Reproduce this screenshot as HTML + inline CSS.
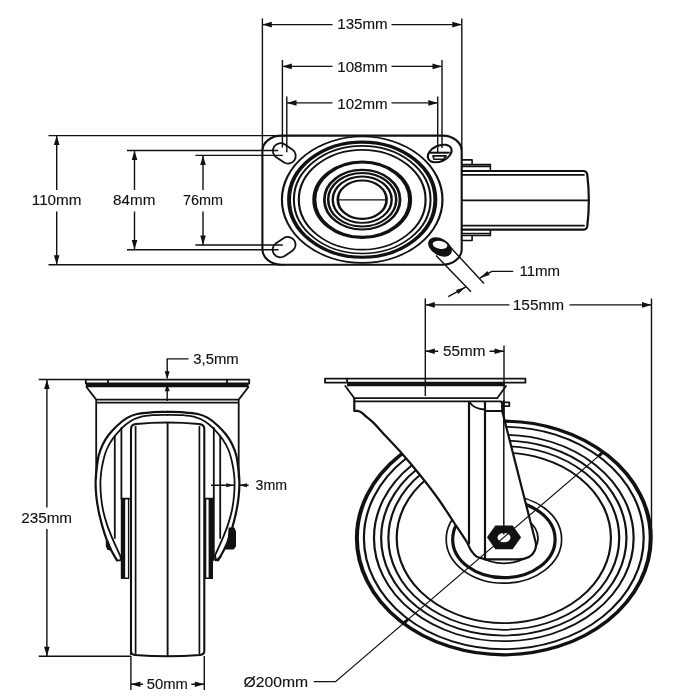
<!DOCTYPE html>
<html><head><meta charset="utf-8">
<style>
html,body{margin:0;padding:0;background:#fff;}
svg{display:block;will-change:transform;opacity:.9999}
text{font-family:"Liberation Sans",sans-serif;font-size:14px;fill:#111;stroke:#111;stroke-width:.12}
.l{stroke:#111;stroke-width:1.4;fill:none}
.t{stroke:#111;stroke-width:1.8;fill:none;stroke-linejoin:round;stroke-linecap:round}
.k{stroke:#111;stroke-width:2.2;fill:none;stroke-linejoin:round;stroke-linecap:round}
.a{fill:#111;stroke:none}
</style></head><body>
<svg width="700" height="700" viewBox="0 0 700 700">
<rect width="700" height="700" fill="#fff"/>

<!-- ============ TOP VIEW ============ -->
<g id="topdims">
<!-- 135 -->
<path class="l" d="M262.4 18.5V150M461.8 18.5V150M262.3 24.6H332.5M391.5 24.6H461.8"/>
<path class="a" d="M262.3 24.6l9.5-2.8v5.6zM461.8 24.6l-9.5-2.8v5.6z"/>
<text x="337.3" y="29.4" textLength="50.4" lengthAdjust="spacingAndGlyphs">135mm</text>
<!-- 108 -->
<path class="l" d="M282.4 60V147.6M442 60V148M282.3 66.4H332.5M391.5 66.4H442"/>
<path class="a" d="M282.3 66.4l9.5-2.8v5.6zM442 66.4l-9.5-2.8v5.6z"/>
<text x="337.3" y="71.5" textLength="50.4" lengthAdjust="spacingAndGlyphs">108mm</text>
<!-- 102 -->
<path class="l" d="M286.8 96.5V152.3M437.7 96.5V152.7M287 102.9H332.5M391.5 102.9H437.8"/>
<path class="a" d="M287 102.9l9.5-2.8v5.6zM437.8 102.9l-9.5-2.8v5.6z"/>
<text x="337.3" y="108.5" textLength="50.4" lengthAdjust="spacingAndGlyphs">102mm</text>
<!-- 110 -->
<path class="l" d="M48.5 135.6H290M48.5 264.7H285M56.7 136V190M56.7 211.5V264"/>
<path class="a" d="M56.7 135.5l-2.8 9.5h5.6zM56.7 264.7l-2.8-9.5h5.6z"/>
<text x="31.8" y="205.3" textLength="49.7" lengthAdjust="spacingAndGlyphs">110mm</text>
<!-- 84 -->
<path class="l" d="M127 150.5H278.2M127 249.7H278.5M134.5 151V190M134.5 211.5V249"/>
<path class="a" d="M134.5 150.4l-2.8 9.5h5.6zM134.5 249.6l-2.8-9.5h5.6z"/>
<text x="113.1" y="205.3" textLength="42.3" lengthAdjust="spacingAndGlyphs">84mm</text>
<!-- 76 -->
<path class="l" d="M195.4 155.4H282.8M195.4 245H282.8M203 156V190M203 211.5V244.5"/>
<path class="a" d="M203 155.4l-2.8 9.5h5.6zM203 245l-2.8-9.5h5.6z"/>
<text x="183.0" y="205.3" textLength="40.0" lengthAdjust="spacingAndGlyphs">76mm</text>
</g>

<g id="topview">
<path class="k" style="stroke-width:2.1" d="M281.4 135.6H442.7A19 15.5 0 0 1 461.7 151.1V249.2A19 15.5 0 0 1 442.7 264.7H281.4A19 15.5 0 0 1 262.4 249.2V151.1A19 15.5 0 0 1 281.4 135.6Z"/>
<!-- holes -->
<rect class="t" style="stroke-width:1.8" x="-12.2" y="-7.7" width="24.4" height="15.4" rx="7.7" transform="translate(284.3 153.4) rotate(34)"/>
<rect class="t" style="stroke-width:1.8" x="-12.2" y="-7.7" width="24.4" height="15.4" rx="7.7" transform="translate(284.1 247.1) rotate(-34)"/>
<g transform="translate(439.7 153.5)">
<ellipse class="k" style="stroke-width:2" rx="12.6" ry="7.9" transform="rotate(-24)"/>
<path d="M-10.5 -0.8H10" stroke="#111" stroke-width="2" fill="none"/>
<path class="t" style="stroke-width:1.6" d="M-6.8 2.4H6.5L3.6 5.8H-5.6Z"/>
</g>
<g transform="translate(440 247)">
<ellipse rx="12.8" ry="8.4" transform="rotate(30)" fill="#111"/>
<ellipse cx="-0.3" cy="-2.1" rx="7.4" ry="3.9" transform="rotate(9)" fill="#fff"/>
</g>
<!-- rings -->
<g transform="translate(362.2 199.7) scale(1.27 1)" fill="none" stroke="#111">
<circle r="63.2" stroke-width="1.7"/>
<circle r="57.6" stroke-width="3.1"/>
<circle r="53.8" stroke-width="1.6"/>
<circle r="49.9" stroke-width="1.7"/>
<circle r="37.7" stroke-width="3.2"/>
<circle r="29.8" stroke-width="2.2"/>
<circle r="26.8" stroke-width="2"/>
<circle r="23.2" stroke-width="1.9"/>
<circle r="19.2" stroke-width="2.1"/>
</g>
<path class="l" style="stroke-width:1.4" d="M338 199.9H386.5"/>
<!-- fork seen from top -->
<path class="t" style="stroke-width:1.6" d="M461.8 159.9H472.1V163.6M461.8 240.5H472.1V236.6"/>
<path class="l" style="stroke-width:1.6" d="M461.8 164.5H490.4V171M461.8 166.4H490M461.8 235.5H490.4V229.6M461.8 233.5H490"/>
<path class="k" d="M461.8 171H583Q587 171 587.3 175Q590.4 200 587.3 226Q587 229.7 583 229.7H461.8"/>
<path class="t" d="M461.8 174.8H584M461.8 225.7H584M461.8 200.3H588"/>
</g>

<!-- 11mm -->
<g id="d11">
<path class="l" d="M436 255.4L471 291.8M450 246.8L484 283.6M448.3 296.7L465.6 287.1M480 277.9L491.8 271.4H513.2"/>
<path class="a" d="M465.6 287.1l-9.6 2.8 2.2 4zM480 277.9l9.6-2.8-2.2-4z"/>
<text x="519.5" y="275.7" textLength="40.6" lengthAdjust="spacingAndGlyphs">11mm</text>
</g>

<!-- 155 / 55 -->
<g id="d155">
<path class="l" d="M425.3 298.6V396M651.5 298.6V536M425.3 304.9H509.5M569.5 304.9H651.5"/>
<path class="a" d="M425.3 304.9l9.5-2.8v5.6zM651.5 304.9l-9.5-2.8v5.6z"/>
<text x="512.8" y="310.0" textLength="51.3" lengthAdjust="spacingAndGlyphs">155mm</text>
<path class="l" d="M504 345.5V537M425.3 351.3H438.2M489.5 351.3H504"/>
<path class="a" d="M425.3 351.3l9.5-2.8v5.6zM504 351.3l-9.5-2.8v5.6z"/>
<text x="443.0" y="356.4" textLength="42.4" lengthAdjust="spacingAndGlyphs">55mm</text>
</g>

<!-- ============ FRONT VIEW ============ -->
<g id="front">
<!-- 235 -->
<path class="l" d="M38.7 379.5H86M38.7 656.3H131M46.9 380V507.4M46.9 529.1V656"/>
<path class="a" d="M46.9 379.5l-2.8 9.5h5.6zM46.9 656.3l-2.8-9.5h5.6z"/>
<text x="21.2" y="523.0" textLength="50.9" lengthAdjust="spacingAndGlyphs">235mm</text>
<!-- 3,5 -->
<path class="l" d="M188.6 358.9H167.2V378M167.2 385V401"/>
<path class="a" d="M167.2 379.3l-2.5-8h5zM167.2 384.2l-2.5 7h5z"/>
<text x="193.3" y="363.6" textLength="45.4" lengthAdjust="spacingAndGlyphs">3,5mm</text>
<!-- plate -->
<path class="t" d="M85.8 379.6H249.2V383.5H85.8ZM108 379.6V383.5M227 379.6V383.5"/>
<path d="M86 385.7H248.5" stroke="#111" stroke-width="3.2" fill="none"/>
<path class="t" d="M86.4 387L96.2 399.6M248.4 387L238.7 399.6M96.2 399.6H238.7M96.2 402.6H238.7M96.2 399.6V478M238.7 399.6V478"/>
<!-- wheel -->
<path class="t" style="stroke-width:2.1" d="M131 654V429Q131 424.5 136 424Q167.5 421 199 424Q204.3 424.5 204.3 429V651Q204.3 654.5 200 655Q167.5 657.5 135 655Q131 654.5 131 651"/>
<path class="l" style="stroke-width:1.7" d="M135.6 426V654.5M199.4 426V654.5"/><path class="l" style="stroke-width:1.9" d="M167.6 422.5V656"/>
<!-- fork outer curve -->
<path class="k" d="M167.5 411.9C164.8 412.0 156.5 411.9 151.4 412.3C146.3 412.7 141.2 413.1 137.1 414.0C133.0 414.9 130.4 415.9 127.1 417.9C123.8 419.8 120.2 422.8 117.1 425.7C114.0 428.6 111.0 431.9 108.6 435.0C106.2 438.1 104.6 440.8 102.9 444.3C101.2 447.8 99.7 451.2 98.6 456.0C97.5 460.8 96.7 468.4 96.2 472.9C95.7 477.4 95.6 478.9 95.6 482.9C95.6 486.9 95.9 492.4 96.4 497.1C96.9 501.8 97.6 506.0 98.6 511.0C99.6 516.0 101.2 522.1 102.6 527.1C104.0 532.1 105.7 537.1 107.1 540.9C108.5 544.7 109.5 546.8 111.1 550.0C112.7 553.2 115.9 558.6 116.9 560.3"/>
<path class="k" d="M167.5 411.9C170.2 412.0 178.5 411.9 183.6 412.3C188.7 412.7 193.8 413.1 197.9 414.0C202.0 414.9 204.6 415.9 207.9 417.9C211.2 419.8 214.8 422.8 217.9 425.7C221.0 428.6 224.0 431.9 226.4 435.0C228.8 438.1 230.4 440.8 232.1 444.3C233.8 447.8 235.3 451.2 236.4 456.0C237.5 460.8 238.3 468.4 238.8 472.9C239.3 477.4 239.4 478.9 239.4 482.9C239.4 486.9 239.1 492.4 238.6 497.1C238.1 501.8 237.4 506.0 236.4 511.0C235.4 516.0 233.8 522.1 232.4 527.1C231.0 532.1 229.3 537.1 227.9 540.9C226.5 544.7 225.5 546.8 223.9 550.0C222.3 553.2 219.1 558.6 218.1 560.3"/>
<path class="t" d="M167.5 414.8C164.9 414.9 156.3 414.9 152.0 415.2C147.7 415.5 145.1 415.6 141.4 416.6C137.7 417.6 133.3 419.4 130.0 421.4C126.7 423.4 124.2 425.7 121.4 428.6C118.6 431.5 115.4 435.0 112.9 438.6C110.4 442.2 108.2 446.1 106.5 450.0C104.8 453.9 103.9 458.2 103.0 462.0C102.1 465.8 101.5 469.4 101.1 472.9C100.7 476.4 100.4 478.9 100.4 482.9C100.4 486.9 100.6 492.4 101.1 497.1C101.6 501.8 102.2 506.4 103.2 511.0C104.2 515.6 105.5 520.1 107.1 524.9C108.7 529.7 111.0 535.1 112.9 539.7C114.8 544.3 117.4 549.6 118.6 552.3C119.8 555.0 120.0 555.1 120.3 555.7"/>
<path class="t" d="M167.5 414.8C170.1 414.9 178.7 414.9 183.0 415.2C187.3 415.5 189.9 415.6 193.6 416.6C197.3 417.6 201.7 419.4 205.0 421.4C208.3 423.4 210.8 425.7 213.6 428.6C216.4 431.5 219.6 435.0 222.1 438.6C224.6 442.2 226.8 446.1 228.5 450.0C230.2 453.9 231.1 458.2 232.0 462.0C232.9 465.8 233.5 469.4 233.9 472.9C234.3 476.4 234.6 478.9 234.6 482.9C234.6 486.9 234.4 492.4 233.9 497.1C233.4 501.8 232.8 506.4 231.8 511.0C230.8 515.6 229.5 520.1 227.9 524.9C226.3 529.7 224.0 535.1 222.1 539.7C220.2 544.3 217.6 549.6 216.4 552.3C215.2 555.0 215.0 555.1 214.7 555.7"/>
<!-- fork inner verticals -->
<path class="t" d="M114.8 436V538M121.4 428V498.6M220.2 436V538M213.8 428V560"/>
<path class="t" d="M121.5 498.6H130.5M213.6 498.6H204.5"/>
<!-- hub bars -->
<path d="M123 498.6V578.2M210.8 498.6V578.2" stroke="#111" stroke-width="4.4" fill="none"/>
<path class="l" d="M128.6 498.6V578.2H121M205.6 498.6V578.2H213"/>
<!-- fork foot -->
<path class="t" d="M116.9 560.3H121L120.3 555.7M220.8 556.8L215.8 560.4L215.2 555.7"/>
<path class="a" d="M105.8 540.5L108 540L112.2 550.5L107.5 550L105.8 546.5ZM228.6 527.5H234.4L236 531.5V546.2L233.7 549.6H224.3L227.6 542Z"/>
<!-- 3mm -->
<path class="l" d="M211 485.3H234M239 485.3H248.6"/>
<path class="a" d="M234.2 485.3l-8-2v4zM239 485.3l8-2v4z"/>
<text x="255.6" y="490.3" textLength="31.5" lengthAdjust="spacingAndGlyphs">3mm</text>
<!-- 50mm -->
<path class="l" d="M130.9 656V690M204.3 656V690M130.9 684.3H143M191.4 684.3H204.3"/>
<path class="a" d="M130.9 684.3l9.5-2.8v5.6zM204.3 684.3l-9.5-2.8v5.6z"/>
<text x="146.7" y="689.1" textLength="41.2" lengthAdjust="spacingAndGlyphs">50mm</text>
</g>

<!-- ============ SIDE VIEW ============ -->
<g id="side">
<!-- wheel rings -->
<g transform="translate(503.8 538) scale(1.258 1)" fill="none" stroke="#111">
<circle r="116.8" stroke-width="3.2"/>
<circle r="111.2" stroke-width="1.75"/>
<circle r="103.2" stroke-width="1.75"/>
<circle r="97.5" stroke-width="1.75"/>
<circle r="91.75" stroke-width="1.75"/>
<circle r="85.15" stroke-width="1.75"/>
</g>
<ellipse cx="503.9" cy="539.3" rx="57.7" ry="43.9" class="t" style="stroke-width:1.7"/>
<ellipse cx="503.9" cy="539.4" rx="51.2" ry="38.3" class="k" style="stroke-width:3.2"/>
<ellipse cx="503.8" cy="538.3" rx="34.2" ry="25" class="t"/>
<!-- fork body (white fill to hide wheel) -->
<path d="M354.3 401.4V410.8L358.0 410.9C358.6 411.2 360.3 411.7 361.5 412.5C362.7 413.3 363.0 413.8 365.1 415.6C367.2 417.5 370.9 420.2 374.3 423.6C377.7 427.0 381.1 431.2 385.7 436.1C390.3 441.1 396.0 446.8 401.7 453.3C407.4 459.8 413.9 467.4 420.0 475.0C426.1 482.6 432.6 491.0 438.3 499.0C444.0 507.0 449.6 515.9 454.3 523.0C459.0 530.1 463.8 537.1 466.5 541.5C469.2 545.9 468.8 547.0 470.5 549.5C472.2 552.0 474.1 555.0 476.7 556.6C479.3 558.2 484.4 558.9 486.0 559.4H518Q531 559.4 534.8 550.5Q536.6 546 535.6 542L502.2 411V402.4H354.3Z" fill="#fff" stroke="none"/>
<path class="k" d="M354.3 398.3V410.8L358.0 410.9C358.6 411.2 360.3 411.7 361.5 412.5C362.7 413.3 363.0 413.8 365.1 415.6C367.2 417.5 370.9 420.2 374.3 423.6C377.7 427.0 381.1 431.2 385.7 436.1C390.3 441.1 396.0 446.8 401.7 453.3C407.4 459.8 413.9 467.4 420.0 475.0C426.1 482.6 432.6 491.0 438.3 499.0C444.0 507.0 449.6 515.9 454.3 523.0C459.0 530.1 463.8 537.1 466.5 541.5C469.2 545.9 468.8 547.0 470.5 549.5C472.2 552.0 474.1 555.0 476.7 556.6C479.3 558.2 484.4 558.9 486.0 559.4H518Q531 559.4 534.8 550.5Q536.6 546 535.6 542L502.2 411V402.4"/>
<path class="k" d="M469 402.4V543.5M485 402.4V559.4M485 411H502"/>
<path class="t" d="M469.8 402.6Q474 409 485 409.5"/>
<!-- plate -->
<path class="t" d="M325 378.6H525.4V382.7H325ZM347.1 378.6V382.7"/>
<path d="M347 384.6H505" stroke="#111" stroke-width="3.4" fill="none"/>
<path class="t" d="M345.3 386L354.3 398.2M506 386L497.2 398.2M354.3 398.2H497.2M354.3 401.4H501.4M501.4 402.4H509.3V406.1H502"/>
<!-- nut -->
<path class="a" d="M487 537.3L495.3 525.5H512.7L521.1 537.3L512.7 549.2H495.3Z"/>
<ellipse cx="504" cy="537.6" rx="6.5" ry="4.7" fill="#fff"/>
<path class="l" style="stroke-width:1.5" d="M503.8 400V534.5"/>
<!-- diameter leader -->
<path class="l" style="stroke-width:1.2" d="M313.8 681.6H335.5L602.3 452.9"/>
<path d="M404.6 622.3L407.8 619.6M598.6 456L602 453.1" stroke="#111" stroke-width="3" fill="none"/>
<text x="243.6" y="686.7" textLength="64.6" lengthAdjust="spacingAndGlyphs">Ø200mm</text>
</g>
</svg>
</body></html>
